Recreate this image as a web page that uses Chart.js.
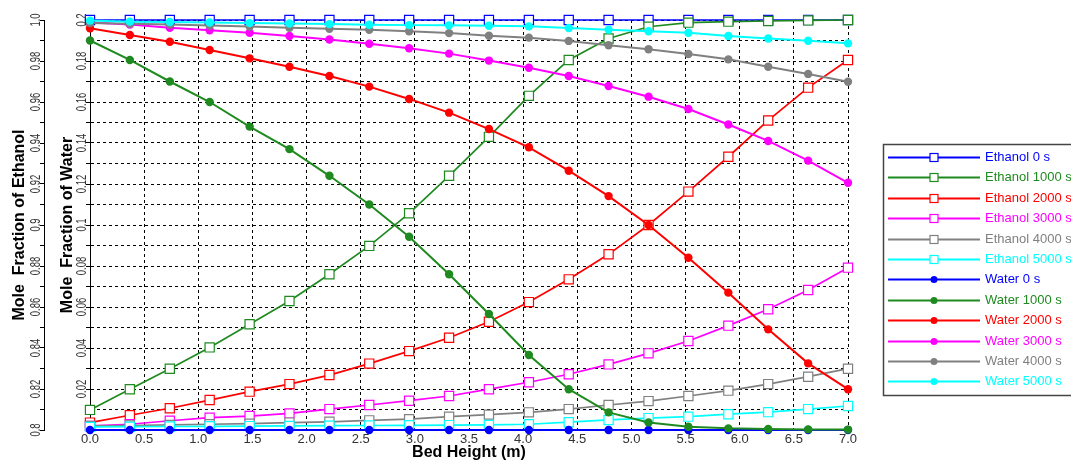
<!DOCTYPE html>
<html>
<head>
<meta charset="utf-8">
<script src="https://cdn.jsdelivr.net/npm/chart.js@4.4.1/dist/chart.umd.min.js"></script>
<style>
  html, body { margin: 0; padding: 0; background: #fff; }
  #wrap { width: 1071px; height: 462px; }
</style>
</head>
<body>
<div id="wrap"><canvas id="chart" width="1071" height="462"></canvas></div>
<script>
// bed height positions (m)
const bedHeight = [0, 0.368, 0.737, 1.105, 1.474, 1.842, 2.211, 2.579, 2.947, 3.316,
                   3.684, 4.053, 4.421, 4.789, 5.158, 5.526, 5.895, 6.263, 6.632, 7.0];

const times = [0, 1000, 2000, 3000, 4000, 5000];
const colors = ['#0000ff', '#1f8a1f', '#ff0000', '#ff00ff', '#808080', '#00ffff'];

// ethanol mole fraction (left axis 0.8 - 1.0)
const ethanol0    = [1, 1, 1, 1, 1, 1, 1, 1, 1, 1, 1, 1, 1, 1, 1, 1, 1, 1, 1, 1];
const ethanol1000 = [0.8098, 0.8199, 0.8299, 0.8403, 0.8516, 0.8629, 0.8760, 0.8898, 0.9057, 0.9240,
                     0.9430, 0.9630, 0.9805, 0.9910, 0.9967, 0.9987, 0.9992, 0.9995, 0.9998, 1.0];
const ethanol2000 = [0.8036, 0.8072, 0.8106, 0.8146, 0.8187, 0.8224, 0.8268, 0.8324, 0.8385, 0.8450,
                     0.8528, 0.8624, 0.8735, 0.8857, 0.9000, 0.9163, 0.9333, 0.9510, 0.9670, 0.9805];
const ethanol3000 = [0.8020, 0.8028, 0.8045, 0.8060, 0.8068, 0.8081, 0.8102, 0.8122, 0.8143, 0.8166,
                     0.8199, 0.8233, 0.8272, 0.8320, 0.8374, 0.8434, 0.8509, 0.8589, 0.8683, 0.8792];
const ethanol4000 = [0.8020, 0.8022, 0.8025, 0.8028, 0.8031, 0.8036, 0.8040, 0.8047, 0.8053, 0.8065,
                     0.8075, 0.8086, 0.8102, 0.8122, 0.8141, 0.8166, 0.8192, 0.8224, 0.8260, 0.8299];
const ethanol5000 = [0.8015, 0.8016, 0.8017, 0.8018, 0.8019, 0.8020, 0.8021, 0.8022, 0.8023, 0.8024,
                     0.8025, 0.8028, 0.8038, 0.8049, 0.8058, 0.8065, 0.8077, 0.8087, 0.8102, 0.8117];

// water mole fraction (inner axis 0 - 0.2)
const water0    = [0, 0, 0, 0, 0, 0, 0, 0, 0, 0, 0, 0, 0, 0, 0, 0, 0, 0, 0, 0];
const water1000 = [0.1900, 0.1805, 0.1700, 0.1600, 0.1480, 0.1370, 0.1240, 0.1100, 0.0943, 0.0760,
                   0.0566, 0.0366, 0.0199, 0.0086, 0.0037, 0.0016, 0.0008, 0.0005, 0.0003, 0.0002];
const water2000 = [0.1960, 0.1927, 0.1894, 0.1854, 0.1813, 0.1772, 0.1727, 0.1675, 0.1615, 0.1548,
                   0.1468, 0.1379, 0.1265, 0.1141, 0.1000, 0.0840, 0.0670, 0.0491, 0.0325, 0.0199];
const water3000 = [0.1988, 0.1978, 0.1962, 0.1950, 0.1938, 0.1922, 0.1905, 0.1884, 0.1862, 0.1836,
                   0.1802, 0.1767, 0.1727, 0.1678, 0.1626, 0.1566, 0.1490, 0.1410, 0.1314, 0.1206];
const water4000 = [0.1985, 0.1982, 0.1978, 0.1973, 0.1968, 0.1962, 0.1957, 0.1952, 0.1945, 0.1936,
                   0.1923, 0.1914, 0.1898, 0.1877, 0.1857, 0.1834, 0.1808, 0.1772, 0.1737, 0.1699];
const water5000 = [0.1997, 0.1992, 0.1990, 0.1988, 0.1985, 0.1983, 0.1980, 0.1977, 0.1975, 0.1974,
                   0.1972, 0.1969, 0.1961, 0.1953, 0.1945, 0.1938, 0.1922, 0.1910, 0.1899, 0.1886];

// tick labels
const ethanolTickLabels = ['1.0', '0.98', '0.96', '0.94', '0.92', '0.9', '0.88', '0.86', '0.84', '0.82', '0.8'];
const waterTickLabels = ['0.2', '0.18', '0.16', '0.14', '0.12', '0.1', '0.08', '0.06', '0.04', '0.02'];

const ethanolSeries = [ethanol0, ethanol1000, ethanol2000, ethanol3000, ethanol4000, ethanol5000];
const waterSeries = [water0, water1000, water2000, water3000, water4000, water5000];

const datasets = [];
times.forEach((t, i) => {
  datasets.push({
    label: 'Ethanol ' + t + ' s',
    data: bedHeight.map((x, j) => ({ x: x, y: ethanolSeries[i][j] })),
    yAxisID: 'yE',
    borderColor: colors[i],
    borderWidth: 1.7,
    pointStyle: 'rect',
    pointRadius: 6.5,
    pointBorderWidth: 1.2,
    pointBorderColor: colors[i],
    pointBackgroundColor: '#fff'
  });
});
times.forEach((t, i) => {
  datasets.push({
    label: 'Water ' + t + ' s',
    data: bedHeight.map((x, j) => ({ x: x, y: waterSeries[i][j] })),
    yAxisID: 'yW',
    borderColor: colors[i],
    borderWidth: 2,
    pointStyle: 'circle',
    pointRadius: 4.2,
    pointBorderWidth: 0,
    pointBackgroundColor: colors[i]
  });
});
// later series are drawn on top
datasets.forEach((d, i) => { d.order = datasets.length - i; d.clip = false; d.tension = 0; });

const FONT = '"Liberation Sans", Arial, sans-serif';

// rotated tick labels on both vertical axes
const sideLabels = {
  id: 'sideLabels',
  afterDraw(chart) {
    const ctx = chart.ctx;
    ctx.save();
    ctx.font = '14px ' + FONT;
    ctx.fillStyle = '#333';
    ctx.textAlign = 'center';
    ctx.textBaseline = 'middle';
    [['yE', ethanolTickLabels], ['yW', waterTickLabels]].forEach(([id, labels]) => {
      const s = chart.scales[id];
      labels.forEach(t => {
        const y = s.getPixelForValue(parseFloat(t));
        ctx.save();
        ctx.translate(s.right - 8, y);
        ctx.rotate(-Math.PI / 2);
        ctx.scale(0.68, 1);
        ctx.fillText(t, 0, 0);
        ctx.restore();
      });
    });
    ctx.restore();
  }
};

// boxed legend with line + marker
const boxLegend = {
  id: 'boxLegend',
  afterDraw(chart) {
    const ctx = chart.ctx;
    const x0 = 883, y0 = 144, rowH = 20.4;
    ctx.save();
    ctx.fillStyle = '#fff';
    ctx.fillRect(x0, y0, 200, 251);
    ctx.strokeStyle = '#444';
    ctx.lineWidth = 1.5;
    ctx.strokeRect(x0 + 0.5, y0 + 0.5, 200, 251);
    ctx.font = '13px ' + FONT;
    ctx.textBaseline = 'middle';
    chart.data.datasets.forEach((d, i) => {
      const y = Math.round(y0 + 13 + i * rowH) + 0.5;
      ctx.strokeStyle = d.borderColor;
      ctx.lineWidth = 2;
      ctx.beginPath();
      ctx.moveTo(888, y);
      ctx.lineTo(980, y);
      ctx.stroke();
      if (d.pointStyle === 'rect') {
        ctx.fillStyle = '#fff';
        ctx.fillRect(930, y - 4, 8, 8);
        ctx.lineWidth = 1.2;
        ctx.strokeRect(930, y - 4, 8, 8);
      } else {
        ctx.fillStyle = d.borderColor;
        ctx.beginPath();
        ctx.arc(934, y, 3.5, 0, Math.PI * 2);
        ctx.fill();
      }
      ctx.fillStyle = d.borderColor;
      ctx.fillText(d.label, 985, y);
    });
    ctx.restore();
  }
};

new Chart(document.getElementById('chart'), {
  type: 'line',
  data: { datasets: datasets },
  options: {
    responsive: false,
    animation: false,
    events: [],
    layout: { autoPadding: false, padding: { left: 0, top: 20, right: 223, bottom: 0 } },
    plugins: { legend: { display: false }, tooltip: { enabled: false } },
    scales: {
      x: {
        type: 'linear',
        min: 0,
        max: 7,
        afterFit: s => { s.height = 32; },
        ticks: {
          stepSize: 0.5,
          padding: 2,
          color: '#333',
          font: { family: FONT, size: 13 },
          callback: v => Number(v).toFixed(1)
        },
        grid: { color: '#000', lineWidth: 1, drawTicks: false },
        border: { display: true, color: '#000', width: 1, dash: [3, 3] },
        title: {
          display: true,
          text: 'Bed Height (m)',
          color: '#000',
          font: { family: FONT, size: 16, weight: 'bold' },
          padding: { top: 0, bottom: 0 }
        }
      },
      yE: {
        type: 'linear',
        position: 'left',
        weight: 1,
        min: 0.8,
        max: 1.0,
        afterFit: s => { s.width = 44; },
        ticks: { stepSize: 0.01, display: false },
        grid: { drawOnChartArea: false, drawTicks: true, tickLength: 4, color: '#000' },
        border: { display: true, color: '#000', width: 1 },
        title: {
          display: true,
          text: 'Mole  Fraction of Ethanol',
          color: '#000',
          font: { family: FONT, size: 16, weight: 'bold' },
          padding: { top: 10, bottom: 0 }
        }
      },
      yW: {
        type: 'linear',
        position: 'left',
        weight: 0,
        min: 0,
        max: 0.2,
        afterFit: s => { s.width = 46; },
        ticks: { stepSize: 0.01, display: false },
        grid: { drawOnChartArea: true, drawTicks: true, tickLength: 4, color: '#000', lineWidth: 1 },
        border: { display: true, color: '#000', width: 1, dash: [3, 3] },
        title: {
          display: true,
          text: 'Mole  Fraction of Water',
          color: '#000',
          font: { family: FONT, size: 16, weight: 'bold' },
          padding: { top: 14, bottom: 0 }
        }
      }
    }
  },
  plugins: [sideLabels, boxLegend]
});
</script>
</body>
</html>
